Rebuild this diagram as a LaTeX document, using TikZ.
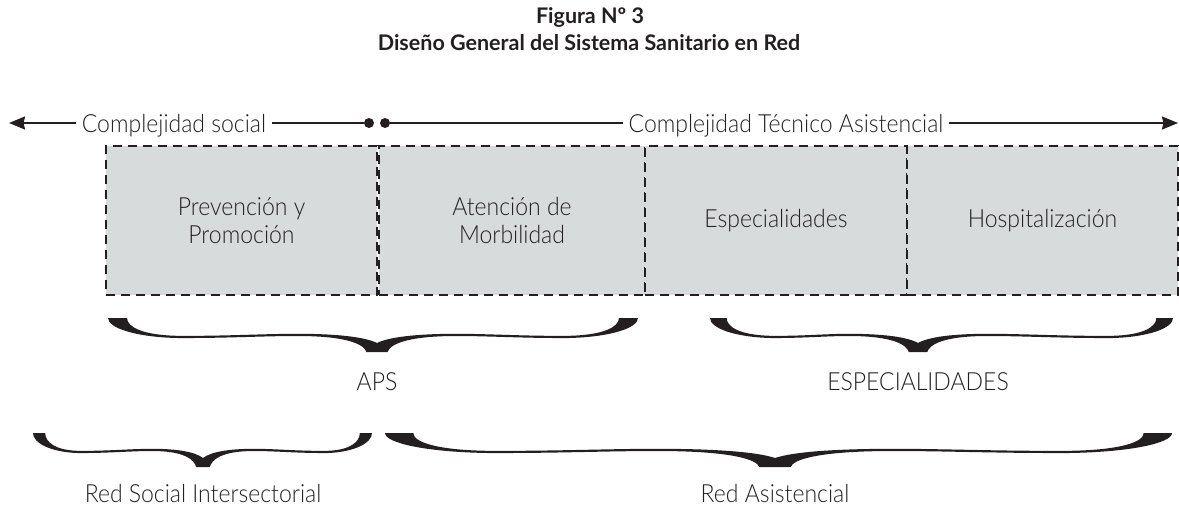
\documentclass[tikz,border=0pt]{standalone}
\usepackage{fontspec}
\setmainfont{Lato}[UprightFont=* Light, BoldFont=* Bold, FakeStretch=0.92]
\newfontfamily\ttlfont{Lato}[UprightFont=* Bold]
\usetikzlibrary{arrows.meta}
\definecolor{boxgray}{RGB}{216,219,220}
\definecolor{ink}{RGB}{35,31,32}
\newcommand\calbrace[4]{%
\pgfmathsetmacro\bA{#1}\pgfmathsetmacro\bM{#2}\pgfmathsetmacro\bB{#3}\pgfmathsetmacro\bT{#4}%
\pgfmathsetmacro\bW{\bB-\bA}\pgfmathsetmacro\bE{0.036*\bW}\pgfmathsetmacro\bL{0.13*\bW}%
\pgfmathsetmacro\bTT{0.15*\bW}\pgfmathsetmacro\bH{0.02*\bW}%
\pgfmathsetmacro\bML{\bM-\bTT-\bA-\bL}\pgfmathsetmacro\bMR{\bB-\bL-\bM-\bTT}%
\fill[ink] (\bA,\bT) .. controls (\bA,\bT+10) and (\bA+0.4*\bL,\bT+19) .. (\bA+\bL,\bT+20)
 .. controls ({\bA+\bL+0.4*\bML},\bT+20.3) and ({\bM-\bTT-0.3*\bML},\bT+18) .. (\bM-\bTT,\bT+18)
 .. controls (\bM-0.35*\bTT,\bT+18) and (\bM-\bH-2,\bT+27) .. (\bM-\bH,\bT+34)
 -- (\bM+\bH,\bT+34)
 .. controls (\bM+\bH+2,\bT+27) and (\bM+0.35*\bTT,\bT+18) .. (\bM+\bTT,\bT+18)
 .. controls ({\bM+\bTT+0.3*\bMR},\bT+18) and ({\bB-\bL-0.4*\bMR},\bT+20.3) .. (\bB-\bL,\bT+20)
 .. controls (\bB-0.4*\bL,\bT+19) and (\bB,\bT+10) .. (\bB,\bT)
 -- (\bB-\bE,\bT)
 .. controls (\bB-\bE,\bT+9) and (\bB-0.5*\bL,\bT+17) .. (\bB-\bL,\bT+17.8)
 .. controls ({\bB-\bL-0.4*\bMR},\bT+18.2) and ({\bM+\bTT+0.3*\bMR},\bT+15.8) .. (\bM+\bTT,\bT+15.8)
 .. controls (\bM+0.5*\bTT,\bT+15.8) and (\bM+0.15*\bTT,\bT+19) .. (\bM,\bT+25)
 .. controls (\bM-0.15*\bTT,\bT+19) and (\bM-0.5*\bTT,\bT+15.8) .. (\bM-\bTT,\bT+15.8)
 .. controls ({\bM-\bTT-0.3*\bML},\bT+15.8) and ({\bA+\bL+0.4*\bML},\bT+18.2) .. (\bA+\bL,\bT+17.8)
 .. controls (\bA+0.5*\bL,\bT+17) and (\bA+\bE,\bT+9) .. (\bA+\bE,\bT) -- cycle;}
\begin{document}
\begin{tikzpicture}[x=1pt,y=-1pt,
  lbl/.style={text=ink,font=\fontsize{25}{28}\selectfont,text height=18pt,text depth=0pt,inner sep=0pt,inner xsep=6pt},
  ttl/.style={text=ink,font=\fontsize{21.5}{25}\ttlfont,inner sep=0pt},
  conn/.style={draw=ink,line width=2pt},
  dotn/.style={circle,fill=ink,inner sep=0pt,minimum size=10pt},
  boxn/.style={draw=ink,line width=1.5pt,dash pattern=on 9pt off 6pt,fill=boxgray,minimum height=149pt,
     text=ink,font=\fontsize{25}{28}\selectfont,align=center,inner sep=0pt},
  tipw/.style={-{Stealth[length=16pt,width=13pt,inset=1.5pt]}}]
\useasboundingbox (0,0) rectangle (1179,506);
\node[ttl] (t1) at (590,17) {Figura Nº 3};
\node[ttl] (t2) at (589,43) {Diseño General del Sistema Sanitario en Red};
\coordinate (tipL) at (9,123);
\coordinate (tipR) at (1178,123);
\node[lbl] (cs) at (174,123) {Complejidad social};
\node[dotn] (d1) at (369,123) {};
\node[dotn] (d2) at (385,123) {};
\node[lbl] (cta) at (786,123) {Complejidad Técnico Asistencial};
\draw[conn,tipw] (cs.west) -- (tipL);
\draw[conn] (cs.east) -- (d1);
\draw[conn] (d2) -- (cta.west);
\draw[conn,tipw] (cta.east) -- (tipR);
\node[boxn,minimum width=271pt] (b1) at (241.5,220.5) {Prevención y\\Promoción};
\node[boxn,minimum width=266pt] (b2) at (512,220.5) {Atención de\\Morbilidad};
\node[boxn,minimum width=262pt] (b3) at (776,220.5) {Especialidades};
\node[boxn,minimum width=271pt] (b4) at (1042.5,220.5) {Hospitalización};
\calbrace{108}{377}{638}{318}
\calbrace{710}{918}{1173}{318}
\calbrace{33}{203}{372}{433}
\calbrace{385}{775}{1172}{433}
\node[lbl] (aps) at (377,381) {APS};
\node[lbl] (esp) at (918,381) {ESPECIALIDADES};
\node[lbl] (rsi) at (203,493) {Red Social Intersectorial};
\node[lbl] (ra) at (775,493) {Red Asistencial};
\end{tikzpicture}
\end{document}
